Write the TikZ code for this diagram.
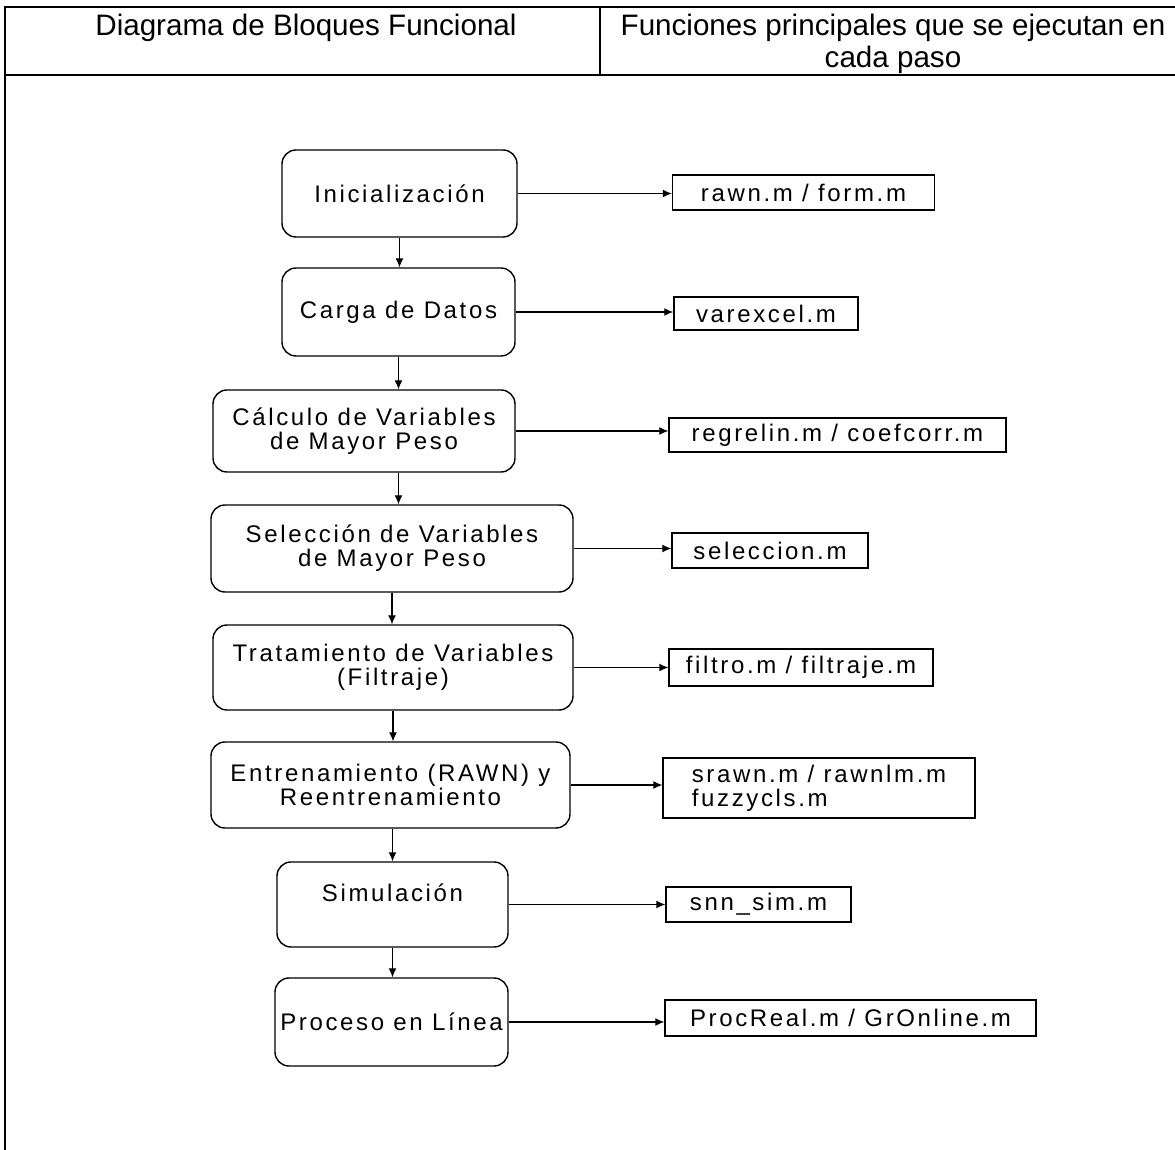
\documentclass[tikz,border=0pt]{standalone}
\usepackage{fontspec}
\setmainfont{Liberation Sans}
\newfontfamily\cajafont[LetterSpace=11]{Liberation Sans}
\usetikzlibrary{arrows.meta}

\begin{document}
\begin{tikzpicture}[x=0.5pt, y=-0.5pt,
  bloque/.style={draw, rounded corners=7pt, line width=0.7pt, align=center, inner sep=0pt,
    font=\cajafont\fontsize{12}{12}\selectfont},
  archivo/.style={draw, line width=0.7pt, align=center, inner sep=0pt,
    font=\cajafont\fontsize{12}{12}\selectfont},
  encabezado/.style={align=center, inner sep=0pt, font=\fontsize{14.8}{16}\selectfont},
  flecha/.style={-{Latex[length=4.5pt,width=4pt]}, line width=0.6pt}]

\useasboundingbox (0,0) rectangle (1175,1150);

% tabla
\draw[line width=1pt] (1175,7) -- (5,7) -- (5,1150);
\draw[line width=1pt] (5,75) -- (1175,75);
\draw[line width=1pt] (600,7) -- (600,75);

\node[encabezado] (t1) at (306,28) {Diagrama de Bloques Funcional};
\node[encabezado] (t2) at (893,44) {Funciones principales que se ejecutan en\\cada paso};

% bloques
\node[bloque, minimum width=117.5pt, minimum height=43.5pt] (b1) at (399.5,193.5) {Inicialización};
\node[bloque, minimum width=116.5pt, minimum height=44pt] (b2) at (398.5,312) {Carga de Datos};
\node[bloque, minimum width=151pt, minimum height=41pt] (b3) at (364,431) {Cálculo de Variables\\de Mayor Peso};
\node[bloque, minimum width=181pt, minimum height=43.5pt] (b4) at (392,548.5) {Selección de Variables\\de Mayor Peso};
\node[bloque, minimum width=180pt, minimum height=42.5pt] (b5) at (393,667.5) {Tratamiento de Variables\\(Filtraje)};
\node[bloque, minimum width=179.5pt, minimum height=43pt] (b6) at (390.5,785) {Entrenamiento (RAWN) y\\Reentrenamiento};
\node[bloque, minimum width=115.5pt, minimum height=42.5pt] (b7) at (392.5,904.5) {Simulación\\\mbox{}};
\node[bloque, minimum width=116.5pt, minimum height=44pt] (b8) at (391.5,1022) {Proceso en Línea};

% funciones
\node[archivo, minimum width=131pt, minimum height=17.5pt] (f1) at (803.5,192.5) {rawn.m / form.m};
\node[archivo, minimum width=92pt, minimum height=16.5pt] (f2) at (766,313.5) {varexcel.m};
\node[archivo, minimum width=168.5pt, minimum height=17pt] (f3) at (837.5,435) {regrelin.m / coefcorr.m};
\node[archivo, minimum width=98pt, minimum height=17.5pt] (f4) at (770,550.5) {seleccion.m};
\node[archivo, minimum width=132pt, minimum height=18.5pt] (f5) at (801,667.5) {filtro.m / filtraje.m};
\node[archivo, minimum width=156pt, minimum height=30pt, align=left] (f6) at (819,788) {srawn.m / rawnlm.m\\fuzzycls.m};
\node[archivo, minimum width=92.5pt, minimum height=17.5pt] (f7) at (758.5,904.5) {snn\_sim.m};
\node[archivo, minimum width=185.5pt, minimum height=18pt] (f8) at (850.5,1018) {ProcReal.m / GrOnline.m};

% flujo
\draw[flecha] (b1.south) -- (b1.south |- b2.north);
\draw[flecha] (b2.south) -- (b2.south |- b3.north);
\draw[flecha] (b2.south |- b3.south) -- (b2.south |- b4.north);
\draw[flecha] (b4.south) -- (b4.south |- b5.north);
\draw[flecha] (b5.south) -- (b5.south |- b6.north);
\draw[flecha] (b6.south -| b7.north) -- (b7.north);
\draw[flecha] (b7.south) -- (b7.south |- b8.north);

\draw[flecha] (b1.east) -- (b1.east -| f1.west);
\draw[flecha] (b2.east) -- (b2.east -| f2.west);
\draw[flecha] (b3.east) -- (b3.east -| f3.west);
\draw[flecha] (b4.east) -- (b4.east -| f4.west);
\draw[flecha] (b5.east) -- (b5.east -| f5.west);
\draw[flecha] (b6.east) -- (b6.east -| f6.west);
\draw[flecha] (b7.east) -- (b7.east -| f7.west);
\draw[flecha] (b8.east) -- (b8.east -| f8.west);

\end{tikzpicture}
\end{document}
